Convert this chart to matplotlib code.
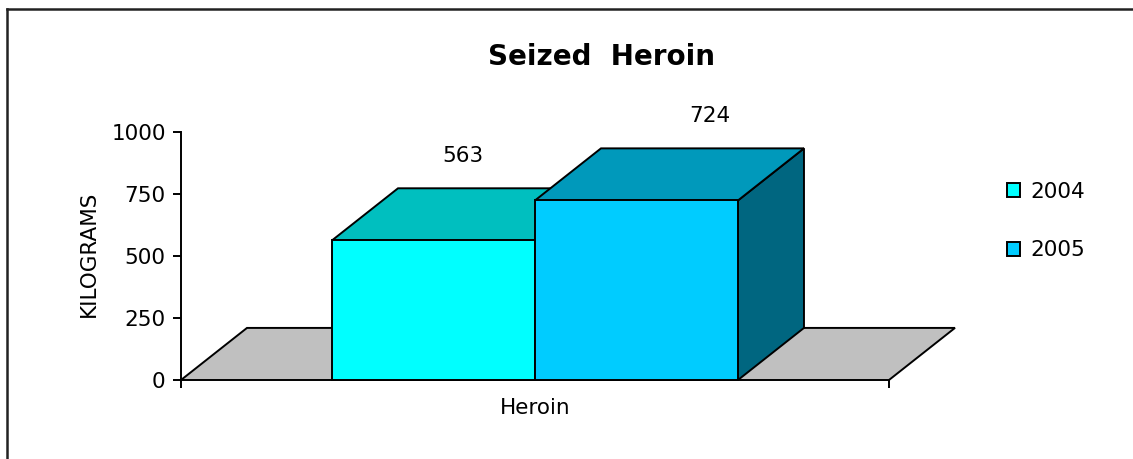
import matplotlib
matplotlib.use('Agg')
import matplotlib.pyplot as plt
from matplotlib.patches import Polygon, Patch
from matplotlib.lines import Line2D

# seized heroin, kilograms
years = ['2004', '2005']
kilograms = [563, 724]
category = 'Heroin'

front_colors = ['#00FFFF', '#00CCFF']
top_colors = ['#00BFBF', '#0099BB']
side_colors = ['#009999', '#006680']

plt.rcParams['font.family'] = ['DejaVu Sans']
fs = 15.5

fig = plt.figure(figsize=(11.33, 4.59), dpi=100)
W, H = 1133.0, 459.0
ax = fig.add_axes([181 / W, 1 - 380 / H, 708 / W, 248 / H])

# fake 3d depth (x in axis units, z in kilograms)
dx = 0.0932
dz = 210

ax.set_xlim(0, 1)
ax.set_ylim(0, 1000)

# floor
floor = Polygon([(0, 0), (1, 0), (1 + dx, dz), (dx, dz)], closed=True,
                facecolor='#C0C0C0', edgecolor='black', lw=1.4,
                clip_on=False, zorder=1)
ax.add_patch(floor)

w = 0.2867
lefts = [0.5 - w, 0.5]
label_shift = [(-4, 58), (40, 58)]

for i in range(len(years)):
    x0 = lefts[i]
    x1 = x0 + w
    v = kilograms[i]
    z = 2 + i * 3
    side = Polygon([(x1, 0), (x1 + dx, dz), (x1 + dx, v + dz), (x1, v)],
                   facecolor=side_colors[i], edgecolor='black', lw=1.4,
                   clip_on=False, zorder=z)
    top = Polygon([(x0, v), (x1, v), (x1 + dx, v + dz), (x0 + dx, v + dz)],
                  facecolor=top_colors[i], edgecolor='black', lw=1.4,
                  clip_on=False, zorder=z + 1)
    ax.add_patch(side)
    ax.add_patch(top)
    ax.bar(x0, v, w, align='edge', color=front_colors[i], edgecolor='black',
           lw=1.4, clip_on=False, zorder=z + 2)
    ax.annotate(str(v), xy=(x0 + w / 2 + dx / 2, v + dz / 2),
                xytext=label_shift[i], textcoords='offset pixels',
                ha='center', va='center', fontsize=fs, zorder=20,
                annotation_clip=False)

for s in ['top', 'right', 'bottom']:
    ax.spines[s].set_visible(False)
ax.spines['left'].set_linewidth(1.4)
ax.spines['left'].set_zorder(10)
ax.patch.set_visible(False)

ax.set_yticks([0, 250, 500, 750, 1000])
ax.tick_params(axis='y', direction='out', length=6, width=1.4, pad=5,
               labelsize=fs)
ax.set_xticks([0, 1])
ax.set_xticklabels(['', ''])
ax.set_xticks([0.5], minor=True)
ax.set_xticklabels([category], minor=True)
ax.tick_params(axis='x', which='major', direction='out', length=6, width=1.4)
ax.tick_params(axis='x', which='minor', length=0, pad=13, labelsize=fs)

ax.set_ylabel('KILOGRAMS', fontsize=fs)
ax.yaxis.set_label_coords(-0.116, 0.51)

fig.text(602 / W, 1 - 57 / H, 'Seized  Heroin', fontsize=20,
         fontweight='bold', ha='center', va='center')

handles = [Patch(facecolor=front_colors[i], edgecolor='black', lw=1.4)
           for i in range(len(years))]
fig.legend(handles, years, loc='center left',
           bbox_to_anchor=(1007 / W, 1 - 221 / H), frameon=False,
           fontsize=fs, handlelength=0.62, handleheight=0.62,
           handletextpad=0.45, labelspacing=1.8, borderpad=0,
           borderaxespad=0)

# outer frame, left and top edges only
fig.add_artist(Line2D([7 / W, 7 / W], [0, 1 - 9 / H], color='#222222', lw=1.8))
fig.add_artist(Line2D([7 / W, 1], [1 - 9 / H, 1 - 9 / H], color='#222222', lw=1.8))

fig.savefig('out.png', dpi=100)
